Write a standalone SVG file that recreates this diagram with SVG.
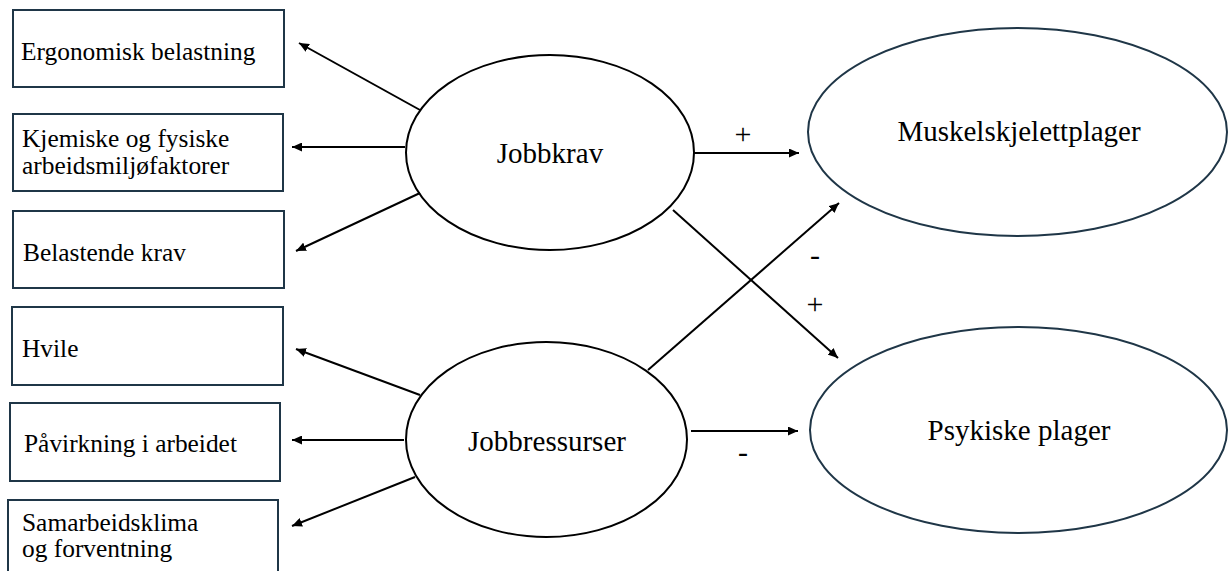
<svg xmlns="http://www.w3.org/2000/svg" width="1228" height="571" viewBox="0 0 1228 571">
<style>
  .box { fill: #ffffff; stroke: #1f3647; stroke-width: 2; }
  .ell { fill: #ffffff; stroke: #000000; stroke-width: 2; }
  .ell2 { fill: #ffffff; stroke: #1f3647; stroke-width: 2; }
  .t { font-family: "Liberation Serif", "Times New Roman", serif; font-size: 25.4px; fill: #000000; }
  .tl { font-family: "Liberation Serif", "Times New Roman", serif; font-size: 29px; fill: #000000; text-anchor: middle; }
  .sign { font-family: "Liberation Serif", "Times New Roman", serif; font-size: 30px; fill: #000000; text-anchor: middle; }
  .con { stroke: #000000; stroke-width: 2; fill: none; marker-end: url(#arr); }
</style>
<defs>
  <marker id="arr" markerUnits="userSpaceOnUse" markerWidth="11" markerHeight="9" refX="10" refY="4.5" orient="auto">
    <path d="M0,0 L10,4.5 L0,9 z" fill="#000000"/>
  </marker>
</defs>
<rect width="1228" height="571" fill="#ffffff"/>

<g id="box-ergonomisk">
  <rect class="box" x="13" y="10" width="271" height="77"/>
  <text class="t" x="21" y="60">Ergonomisk belastning</text>
</g>
<g id="box-kjemiske">
  <rect class="box" x="13" y="114" width="270" height="77"/>
  <text class="t" x="22" y="147">Kjemiske og fysiske</text>
  <text class="t" x="22" y="174">arbeidsmiljøfaktorer</text>
</g>
<g id="box-belastende">
  <rect class="box" x="13" y="211" width="271" height="77"/>
  <text class="t" x="23" y="261">Belastende krav</text>
</g>
<g id="box-hvile">
  <rect class="box" x="12" y="307" width="271" height="78"/>
  <text class="t" x="22" y="357">Hvile</text>
</g>
<g id="box-pavirkning">
  <rect class="box" x="10" y="403" width="270" height="78"/>
  <text class="t" x="24" y="452">Påvirkning i arbeidet</text>
</g>
<g id="box-samarbeid">
  <rect class="box" x="8" y="500" width="270" height="90"/>
  <text class="t" x="22" y="531">Samarbeidsklima</text>
  <text class="t" x="22" y="557">og forventning</text>
</g>

<g id="node-jobbkrav">
  <ellipse class="ell" cx="550" cy="152.5" rx="144" ry="97.5"/>
  <text class="tl" x="550" y="163">Jobbkrav</text>
</g>
<g id="node-jobbressurser">
  <ellipse class="ell" cx="546.5" cy="439.5" rx="140.5" ry="97.5"/>
  <text class="tl" x="547" y="451">Jobbressurser</text>
</g>
<g id="node-muskel">
  <ellipse class="ell2" cx="1017.5" cy="132" rx="209.5" ry="104"/>
  <text class="tl" x="1019" y="141">Muskelskjelettplager</text>
</g>
<g id="node-psykiske">
  <ellipse class="ell2" cx="1018.5" cy="430" rx="208.5" ry="103"/>
  <text class="tl" x="1019" y="440">Psykiske plager</text>
</g>

<g id="connectors">
  <line class="con" x1="420" y1="110" x2="299" y2="43"/>
  <line class="con" x1="405" y1="147" x2="292" y2="147"/>
  <line class="con" x1="420" y1="193" x2="296" y2="251"/>
  <line class="con" x1="420" y1="395" x2="296" y2="349"/>
  <line class="con" x1="404" y1="440" x2="292" y2="440"/>
  <line class="con" x1="415" y1="477" x2="292" y2="526"/>
  <line class="con" x1="693" y1="153" x2="799" y2="153"/>
  <line class="con" x1="691" y1="431" x2="798" y2="431"/>
  <line class="con" x1="673" y1="210" x2="838" y2="358"/>
  <line class="con" x1="648" y1="370" x2="839" y2="203"/>
  <text class="sign" x="743" y="144">+</text>
  <text class="sign" x="743" y="462">-</text>
  <text class="sign" x="815" y="265">-</text>
  <text class="sign" x="815" y="314">+</text>
</g>
</svg>
